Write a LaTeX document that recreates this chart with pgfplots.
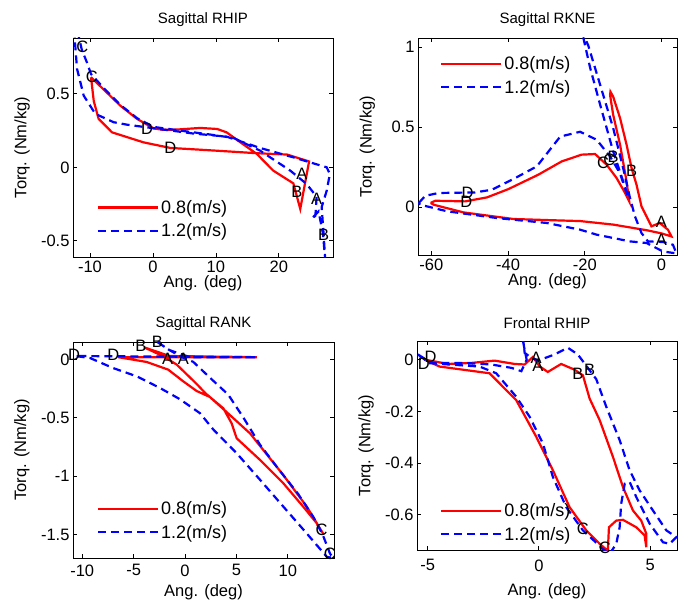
\documentclass[border=0pt]{standalone}
\usepackage{fontspec}
\setmainfont{Liberation Sans}
\usepackage{pgfplots}
\usepackage{pgfplotstable}
\pgfplotsset{compat=1.18}

\newcommand{\fs}{\fontsize{16.5bp}{19bp}\selectfont}
\newcommand{\fl}{\fontsize{18bp}{21bp}\selectfont}
\newcommand{\ft}{\fontsize{15bp}{18bp}\selectfont}

\pgfplotsset{
  gait/.style={
    scale only axis, anchor=south west,
    tick align=inside, tick pos=both,
    major tick length=4bp,
    axis line style={line width=0.8bp},
    every tick/.style={black, line width=0.8bp},
    /pgf/number format/assume math mode=true,
    tick label style={font=\fs},
    label style={font=\fs},
    title style={font=\ft, at={(axis description cs:0.5,1)}, anchor=center, yshift=12bp},
    xlabel={Ang. (deg)}, ylabel={Torq. (Nm/kg)},
    xlabel style={at={(axis description cs:0.5,0)}, anchor=center, yshift=-26bp},
    ylabel style={at={(axis description cs:-0.196,0.5)}, anchor=center},
    legend style={draw=none, fill=none, font=\fl, inner sep=0pt, row sep=5bp,
      /tikz/every even column/.append style={column sep=3bp}},
    legend cell align=left,
    legend image code/.code={\draw[##1] (0bp,0bp) -- (60bp,0bp);},
  },
  slow/.style={color=red, line width=2.2bp, solid},
  fast/.style={color=blue, line width=2.2bp, dash pattern=on 8bp off 5bp},
  tags/.style={draw=none, mark=none, forget plot, nodes near coords,
    point meta=explicit symbolic, nodes near coords align=center,
    every node near coord/.append style={font=\fs, inner sep=0pt, text=black}},
}

% Sagittal RHIP
\pgfplotstableread{
x y
-9.84 0.613
-7.84 0.53
-5.19 0.42
-2.54 0.33
0.1 0.265
1.6 0.255
3.8 0.257
7.5 0.268
10.2 0.261
11.7 0.238
13.9 0.17
16.5 0.091
19.1 -0.022
22.3 -0.109
23.4 -0.283
24.8 0.04
21.3 0.087
16.5 0.096
11.7 0.109
7.5 0.12
2.75 0.132
-1.5 0.17
-6.5 0.238
-8.63 0.33
-9.4 0.45
-9.84 0.613
}\hipS
\pgfplotstableread{
x y
-12.0 0.93
-11.3 0.80
-10.5 0.715
-9.84 0.635
-7.84 0.54
-5.19 0.425
-2.54 0.335
0.1 0.275
4.33 0.25
9.1 0.223
12.8 0.2
17 0.114
21.8 -0.022
24.4 -0.113
26.0 -0.2
25.8 -0.33
25.2 -0.35
26.3 -0.3
27.0 -0.45
27.35 -0.62
27.1 -0.45
26.8 -0.27
27.6 -0.159
28.1 -0.045
27.6 0
22.3 0.068
17 0.132
11.7 0.209
6.4 0.23
1.16 0.26
-4.1 0.29
-6.25 0.307
-9.16 0.364
-11.0 0.488
-12.06 0.67
-12.4 0.86
-12.5 0.93
}\hipF
\pgfplotstableread{
x y l
-11.2 0.82 C
-9.7 0.613 C
-0.95 0.26 D
2.75 0.13 D
23.65 -0.045 A
22.85 -0.17 B
26.0 -0.215 A
27.1 -0.458 B
}\hipT

% Sagittal RKNE
\pgfplotstableread{
x y
-60.2 0.025
-59.0 0.039
-51.2 0.035
-45.5 0.06
-39.9 0.112
-32.1 0.202
-26.0 0.285
-20.8 0.327
-17.3 0.331
-14.3 0.264
-11.7 0.181
-9.5 0.088
-8.4 0.035
-9.1 0.16
-10.8 0.39
-12.6 0.577
-13.4 0.70
-13.3 0.72
-12.6 0.69
-10.8 0.556
-9.1 0.39
-7.8 0.244
-6.5 0.139
-5.2 0.004
-2.6 -0.121
-0.44 -0.1
1.7 -0.142
2.6 -0.184
0 -0.165
-3.9 -0.145
-12.6 -0.11
-21.2 -0.088
-29.5 -0.082
-38.6 -0.075
-51.6 -0.034
-59.4 0.014
-60.2 0.025
}\kneS
\pgfplotstableread{
x y
-63.3 0.025
-61.6 0.07
-58.1 0.0875
-48.6 0.091
-44.2 0.108
-38.2 0.18
-32.5 0.254
-26.4 0.44
-21.2 0.47
-16.9 0.42
-13.4 0.316
-10.8 0.21
-9.1 0.0875
-8.6 0.06
-9.1 0.0975
-12.6 0.348
-16.0 0.64
-18.6 0.87
-20.4 1.06
-20.8 1.10
-19.1 1.01
-16.0 0.764
-12.6 0.494
-10.0 0.244
-8.2 0.056
-6.9 -0.059
-5.2 -0.163
-3.5 -0.215
0.42 -0.219
3.0 -0.236
3.9 -0.29
0.42 -0.278
-3.9 -0.225
-8.2 -0.215
-16.9 -0.173
-21.2 -0.142
-29.9 -0.1
-42.9 -0.069
-55.9 -0.027
-62.9 0.014
-63.3 0.025
}\kneF
\pgfplotstableread{
x y l
-50.6 0.0875 D
-50.9 0.035 D
-15.2 0.275 C
-13.6 0.296 C
-12.6 0.316 B
-7.8 0.223 B
0 -0.09 A
0 -0.204 A
}\kneT

% Sagittal RANK
\pgfplotstableread{
x y
-4.0 0.105
-2.1 0.027
-0.8 -0.044
1.14 -0.21
2.0 -0.29
3.73 -0.418
4.54 -0.547
5.03 -0.675
7.3 -0.86
9.57 -1.06
11.5 -1.26
12.8 -1.40
13.5 -1.50
11.85 -1.26
9.57 -0.99
6.33 -0.633
3.8 -0.43
2.4 -0.32
1.14 -0.27
-0.17 -0.187
-1.63 -0.087
-3.73 -0.021
-6.5 0.02
7.0 0.02
-1.5 0.03
-4.0 0.105
}\ankS
\pgfplotstableread{
x y
-2.7 0.15
-1.5 0.08
-0.3 0.02
0.8 -0.02
2.6 -0.17
4.2 -0.30
5.7 -0.50
7.3 -0.73
9.2 -0.95
11.0 -1.15
12.5 -1.35
13.4 -1.50
14.1 -1.66
14.4 -1.70
13.8 -1.69
11.85 -1.49
9.57 -1.26
7.3 -1.03
5.0 -0.80
2.76 -0.60
1.46 -0.46
-0.5 -0.34
-2.43 -0.244
-4.7 -0.144
-7.0 -0.073
-9.25 0.013
-10.7 0.03
7.0 0.02
0.5 0.02
-1.5 0.08
-2.7 0.15
}\ankF
\pgfplotstableread{
x y l
-10.8 0.04 D
-6.98 0.036 D
-4.3 0.113 B
-2.69 0.15 B
-1.7 0.007 A
-0.17 0.007 A
13.3 -1.46 C
14.1 -1.66 C
}\ankT

% Frontal RHIP
\pgfplotstableread{
x y
-5.14 0.001
-4.09 -0.016
-3.04 -0.012
-1.99 -0.003
-1.09 -0.016
-0.64 -0.018
-0.27 0.011
0.03 -0.025
0.4 -0.047
1.0 -0.016
1.6 -0.038
1.98 -0.06
2.28 -0.15
2.73 -0.233
3.33 -0.376
3.78 -0.493
4.23 -0.584
4.6 -0.623
4.83 -0.674
4.83 -0.726
4.75 -0.68
4.38 -0.649
3.78 -0.62
3.48 -0.623
3.15 -0.649
3.1 -0.74
2.73 -0.713
2.13 -0.661
1.38 -0.571
0.63 -0.428
-0.12 -0.298
-1.02 -0.156
-2.22 -0.052
-4.47 -0.026
-5.14 0.001
}\frhS
\pgfplotstableread{
x y
-5.44 0.021
-4.84 -0.012
-3.34 -0.012
-2.14 -0.018
-1.24 -0.031
-0.79 -0.044
-0.55 0.0
-0.62 0.03
-0.72 0.075
-0.72 0.09
-0.64 0.027
-0.34 0.008
-0.04 -0.003
0.71 0.021
1.3 0.047
1.75 0.021
2.2 -0.031
2.58 -0.075
3.03 -0.182
3.63 -0.311
4.08 -0.428
4.53 -0.506
5.13 -0.584
5.73 -0.661
6.18 -0.687
5.88 -0.713
5.58 -0.707
4.98 -0.635
4.38 -0.532
4.08 -0.473
3.86 -0.48
3.7 -0.558
3.63 -0.649
3.48 -0.713
3.18 -0.752
2.88 -0.733
1.98 -0.661
1.23 -0.571
0.63 -0.454
0.18 -0.324
-0.42 -0.22
-1.02 -0.143
-1.92 -0.052
-2.67 -0.026
-4.92 -0.013
-5.44 0.021
}\frhF
\pgfplotstableread{
x y l
-5.17 -0.016 D
-4.87 0.01 D
-0.12 0.008 A
-0.04 -0.025 A
1.75 -0.054 B
2.28 -0.038 B
1.98 -0.655 C
2.96 -0.73 C
}\frhT

\begin{document}
\begin{tikzpicture}
\useasboundingbox (0,0) rectangle (678bp,605bp);

\begin{axis}[gait, at={(73bp,348bp)}, width=260bp, height=219bp,
  title={Sagittal RHIP},
  xmin=-12.7, xmax=28.6, ymin=-0.61, ymax=0.88,
  xtick={-10,0,10,20}, ytick={-0.5,0,0.5},
  legend style={at={(0.091,0.075)}, anchor=south west}]
\addplot[slow] table {\hipS};
\addplot[fast] table {\hipF};
\addplot[tags] table[meta=l] {\hipT};
\legend{0.8(m/s),1.2(m/s)}
\end{axis}

\begin{axis}[gait, at={(418bp,350bp)}, width=259bp, height=217bp,
  title={Sagittal RKNE},
  xmin=-63.5, xmax=4.06, ymin=-0.30, ymax=1.056,
  xtick={-60,-40,-20,0}, ytick={0,0.5,1},
  legend style={at={(0.085,0.925)}, anchor=north west}]
\addplot[slow] table {\kneS};
\addplot[fast] table {\kneF};
\addplot[tags] table[meta=l] {\kneT};
\legend{0.8(m/s),1.2(m/s)}
\end{axis}

\begin{axis}[gait, at={(73bp,47bp)}, width=261bp, height=216bp,
  title={Sagittal RANK},
  xmin=-10.9, xmax=14.5, ymin=-1.70, ymax=0.15,
  xtick={-10,-5,0,5,10}, ytick={-1.5,-1,-0.5,0},
  xticklabel style={yshift=-3bp},
  xlabel style={yshift=-8bp},
  legend style={at={(0.091,0.075)}, anchor=south west}]
\addplot[slow] table {\ankS};
\addplot[fast] table {\ankF};
\addplot[tags] table[meta=l] {\ankT};
\legend{0.8(m/s),1.2(m/s)}
\end{axis}

\begin{axis}[gait, at={(417bp,55bp)}, width=260bp, height=209bp,
  title={Frontal RHIP},
  xmin=-5.48, xmax=6.21, ymin=-0.737, ymax=0.073,
  xtick={-5,0,5}, ytick={-0.6,-0.4,-0.2,0},
  xticklabel style={yshift=-6bp},
  xlabel style={yshift=-15bp},
  legend style={at={(0.088,0.03)}, anchor=south west}]
\addplot[slow] table {\frhS};
\addplot[fast] table {\frhF};
\addplot[tags] table[meta=l] {\frhT};
\legend{0.8(m/s),1.2(m/s)}
\end{axis}
\end{tikzpicture}
\end{document}
